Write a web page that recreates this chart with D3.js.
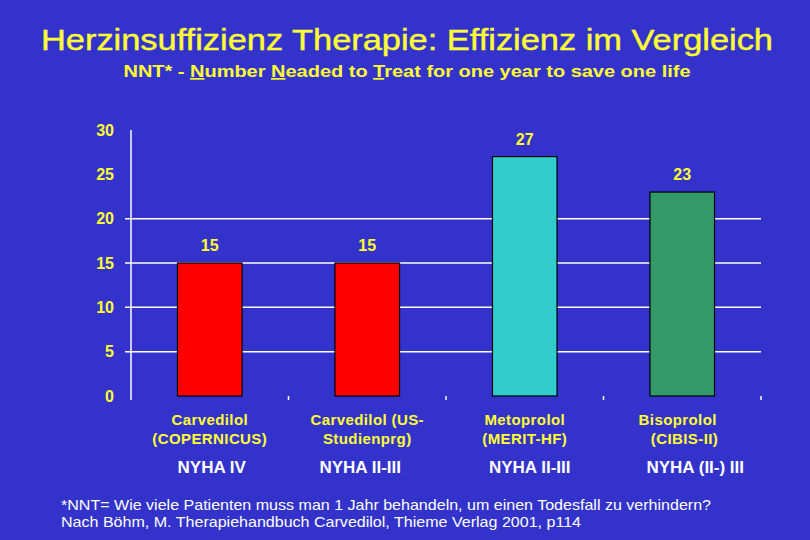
<!DOCTYPE html>
<html><head><meta charset="utf-8">
<script src="https://cdn.jsdelivr.net/npm/d3@7"></script>
<style>
html,body{margin:0;padding:0;background:#3333cc;}
svg{display:block;font-family:"Liberation Sans",Arial,sans-serif;}
</style></head>
<body>
<svg id="chart" width="810" height="540"></svg>
<script>
// ---- data ----
const categories = ["Carvedilol (COPERNICUS)", "Carvedilol (US-Studienprg)", "Metoprolol (MERIT-HF)", "Bisoprolol (CIBIS-II)"];
const labelLine1 = ["Carvedilol", "Carvedilol (US-", "Metoprolol", "Bisoprolol\u00a0\u00a0"];
const labelLine2 = ["(COPERNICUS)", "Studienprg)", "(MERIT-HF)", "\u00a0(CIBIS-II)"];
const nyhaClass = ["NYHA IV", "NYHA II-III", "NYHA II-III", "NYHA (II-) III"];
const nntValues = [15, 15, 27, 23];
const barColors = ["#ff0000", "#ff0000", "#33cccc", "#339966"];
const yTicks = [0, 5, 10, 15, 20, 25, 30];
const gridTicks = [5, 10, 15, 20];
const title = "Herzinsuffizienz Therapie: Effizienz im Vergleich";
const footnote1 = "*NNT= Wie viele Patienten muss man 1 Jahr behandeln, um einen Todesfall zu verhindern?";
const footnote2 = "Nach Böhm, M. Therapiehandbuch Carvedilol, Thieme Verlag 2001, p114";

// ---- layout ----
const W = 810, H = 540;
const plot = {left: 131, right: 761, top: 130, bottom: 396};
const nyhaDx = [2, -7, 5, 13];
const yellow = "#ffff33";

const svg = d3.select("#chart");

svg.append("rect").attr("width", W).attr("height", H).attr("fill", "#3333cc");

const x = d3.scaleBand().domain(categories).range([plot.left, plot.right]).paddingInner(0.59).paddingOuter(0.295);
const xb = d3.scaleBand().domain(categories).range([plot.left, plot.right]);
const y = d3.scaleLinear().domain([0, 30]).range([plot.bottom, plot.top]);

// title
svg.append("text").attr("x", 407).attr("y", 50).attr("text-anchor", "middle")
  .attr("fill", yellow).attr("stroke", yellow).attr("stroke-width", 0.4)
  .attr("font-size", 29)
  .attr("textLength", 732).attr("lengthAdjust", "spacingAndGlyphs")
  .text(title);

// subtitle with underlined initials
const sub = svg.append("text").attr("x", 407).attr("y", 77).attr("text-anchor", "middle")
  .attr("fill", yellow).attr("font-size", 17).attr("font-weight", "bold")
  .attr("textLength", 567).attr("lengthAdjust", "spacingAndGlyphs");
const subParts = [["NNT* - ", false], ["N", true], ["umber ", false], ["N", true], ["eaded to ", false], ["T", true], ["reat for one year to save one life", false]];
subParts.forEach(([t, u]) => {
  const ts = sub.append("tspan").text(t);
  if (u) ts.attr("text-decoration", "underline");
});

// gridlines
svg.append("g").selectAll("line").data(gridTicks).join("line")
  .attr("x1", plot.left - 6).attr("x2", plot.right)
  .attr("y1", d => y(d)).attr("y2", d => y(d))
  .attr("stroke", "#ffffff").attr("stroke-width", 1.5);

// y axis line
svg.append("line").attr("x1", plot.left).attr("x2", plot.left)
  .attr("y1", plot.top).attr("y2", plot.bottom + 4)
  .attr("stroke", "#ffffff").attr("stroke-width", 1.5);

// y tick labels
svg.append("g").selectAll("text").data(yTicks).join("text")
  .attr("x", 114).attr("y", d => y(d)).attr("dy", "0.36em")
  .attr("text-anchor", "end").attr("fill", yellow)
  .attr("font-size", 16).attr("font-weight", "bold")
  .text(d => d);

// x ticks (band boundaries)
svg.append("g").selectAll("line").data(categories).join("line")
  .attr("x1", d => xb(d) + xb.bandwidth()).attr("x2", d => xb(d) + xb.bandwidth())
  .attr("y1", plot.bottom).attr("y2", plot.bottom + 4)
  .attr("stroke", "#ffffff").attr("stroke-width", 1.5);

// bars
svg.append("g").selectAll("rect").data(nntValues).join("rect")
  .attr("x", (d, i) => x(categories[i]))
  .attr("y", d => y(d))
  .attr("width", x.bandwidth())
  .attr("height", d => y(0) - y(d))
  .attr("fill", (d, i) => barColors[i])
  .attr("stroke", "#000000").attr("stroke-width", 1.2);

// value labels
svg.append("g").selectAll("text").data(nntValues).join("text")
  .attr("x", (d, i) => x(categories[i]) + x.bandwidth() / 2)
  .attr("y", d => y(d) - 12)
  .attr("text-anchor", "middle").attr("fill", yellow)
  .attr("font-size", 16).attr("font-weight", "bold")
  .text(d => d);

// category labels
const cx = i => xb(categories[i]) + xb.bandwidth() / 2;
[[labelLine1, 425], [labelLine2, 444]].forEach(([lines, yy]) => {
  svg.append("g").selectAll("text").data(lines).join("text")
    .attr("x", (d, i) => cx(i)).attr("y", yy)
    .attr("text-anchor", "middle").attr("fill", yellow)
    .attr("font-size", 15).attr("font-weight", "bold").attr("letter-spacing", 0.4)
    .style("white-space", "pre")
    .text(d => d);
});

// NYHA labels
svg.append("g").selectAll("text").data(nyhaClass).join("text")
  .attr("x", (d, i) => cx(i) + nyhaDx[i]).attr("y", 473)
  .attr("text-anchor", "middle").attr("fill", "#ffffff")
  .attr("font-size", 17).attr("font-weight", "bold")
  .text(d => d);

// footnotes
svg.append("text").attr("x", 61).attr("y", 510).attr("fill", "#ffffff").attr("font-size", 15)
  .attr("textLength", 650).attr("lengthAdjust", "spacingAndGlyphs").text(footnote1);
svg.append("text").attr("x", 61).attr("y", 527).attr("fill", "#ffffff").attr("font-size", 15)
  .attr("textLength", 520).attr("lengthAdjust", "spacingAndGlyphs").text(footnote2);
</script>
</body></html>
